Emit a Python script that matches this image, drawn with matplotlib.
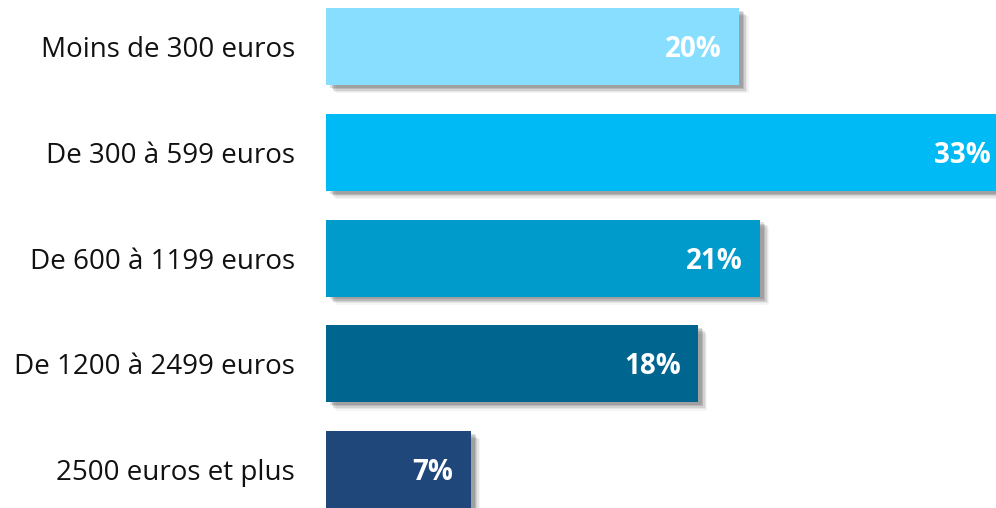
import matplotlib
matplotlib.use("Agg")
import matplotlib.pyplot as plt
import matplotlib.patheffects as pe

categories = ["Moins de 300 euros", "De 300 à 599 euros", "De 600 à 1199 euros",
              "De 1200 à 2499 euros", "2500 euros et plus"]
values = [20, 33, 21, 18, 7]
labels = ["20%", "33%", "21%", "18%", "7%"]
colors = ["#87DEFF", "#00BAF5", "#009ACB", "#00658F", "#1F477A"]

plt.rcParams['font.family'] = ['Open Sans', 'DejaVu Sans']

fig = plt.figure(figsize=(9.96, 5.08), dpi=100)
ax = fig.add_axes([326/996, 0, 670/996, 1])

shadow = [pe.SimplePatchShadow(offset=(7, -6), shadow_rgbFace='#000000', alpha=0.04),
          pe.SimplePatchShadow(offset=(6, -5), shadow_rgbFace='#000000', alpha=0.06),
          pe.SimplePatchShadow(offset=(5, -4), shadow_rgbFace='#000000', alpha=0.09),
          pe.SimplePatchShadow(offset=(4, -3), shadow_rgbFace='#000000', alpha=0.12),
          pe.SimplePatchShadow(offset=(3, -2), shadow_rgbFace='#000000', alpha=0.12),
          pe.Normal()]

y = list(range(len(categories)))
bars = ax.barh(y, values, height=0.728, color=colors, zorder=2)
for b in bars:
    b.set_path_effects(shadow)

for yi, v, lab in zip(y, values, labels):
    ax.annotate(lab, xy=(v, yi), xytext=(-17, -3), textcoords='offset pixels',
                ha='right', va='center', color='white', fontsize=20,
                fontweight='bold', zorder=3, annotation_clip=False)

ax.set_xlim(0, 32.45)
ax.set_ylim(4.364, -0.44)
ax.set_yticks(y)
ax.set_yticklabels(categories, fontsize=20, color='#111111')
ax.tick_params(axis='y', length=0, pad=22.3)
ax.set_xticks([])
for s in ax.spines.values():
    s.set_visible(False)

fig.savefig("out.png", dpi=100)
